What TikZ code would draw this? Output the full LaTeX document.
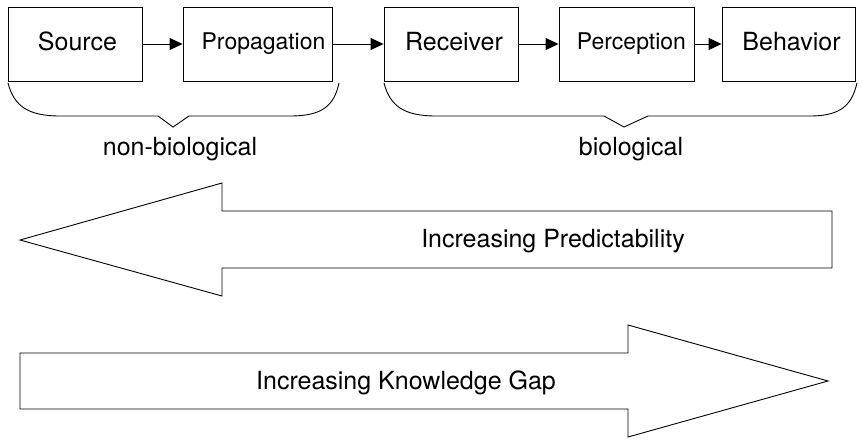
\documentclass[tikz,border=0pt]{standalone}
\usepackage{fontspec}
\setmainfont{TeX Gyre Heros}
\usetikzlibrary{arrows.meta}
\begin{document}
\begin{tikzpicture}[x=1pt,y=-1pt,>={Triangle[length=13pt,width=12pt]},
    blk/.style={draw,line width=0.9pt,minimum height=74pt,inner sep=0pt,text depth=5pt,font=\fontsize{25}{29}\selectfont},
    smalltxt/.style={font=\fontsize{23}{27}\selectfont},
    lbl/.style={font=\fontsize{25}{29}\selectfont},
    bigarrow/.style={draw,line width=0.9pt,line join=miter}]
          \useasboundingbox (0,0) rectangle (862,440);
          \node[blk,minimum width=134pt] (source) at (75,44) {\hspace{5pt}Source};
          \node[blk,smalltxt,minimum width=149pt] (prop) at (257.5,44) {\hspace{12pt}Propagation};
          \node[blk,minimum width=134pt] (recv) at (451,44) {\hspace{6pt}Receiver};
          \node[blk,smalltxt,minimum width=135pt] (perc) at (626.5,44) {\hspace{10pt}Perception};
          \node[blk,minimum width=133pt] (behav) at (788.5,44) {\hspace{6pt}Behavior};
          \draw[->,line width=0.9pt] (source) -- (prop);
          \draw[->,line width=0.9pt] (prop) -- (recv);
          \draw[->,line width=0.9pt] (recv) -- (perc);
          \draw[->,line width=0.9pt] (perc) -- (behav);
          \draw[line width=0.9pt] (8,83) .. controls (14,106) and (28,116) .. (60,116)
               -- (158,116) -- (173,127) -- (189,116) -- (290,116)
               .. controls (322,116) and (334,106) .. (339,83);
          \draw[line width=0.9pt] (384,83) .. controls (390,106) and (404,116) .. (436,116)
               -- (604,116) -- (624,127) -- (648,116) -- (810,116)
               .. controls (842,116) and (852,104) .. (857,83);
          \node[lbl] (nonbio) at (180,149) {non-biological};
          \node[lbl] (bio) at (631,149) {biological};
          \draw[bigarrow] (20,240) -- (222,183) -- (222,211) -- (832,211) -- (832,268)
               -- (222,268) -- (222,296) -- cycle;
          \node[lbl] (predict) at (553,241) {Increasing Predictability};
          \draw[bigarrow] (828,381) -- (628,325) -- (628,353) -- (20,353) -- (20,409)
               -- (628,409) -- (628,437) -- cycle;
          \node[lbl] (gap) at (406,383) {Increasing Knowledge Gap};
        \end{tikzpicture}
\end{document}
